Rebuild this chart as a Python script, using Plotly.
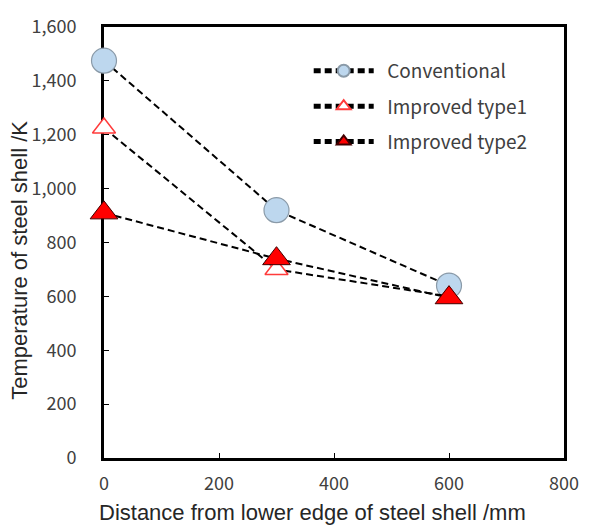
import plotly.graph_objects as go

# Shell temperature versus distance from the lower edge of the steel shell
distance_mm = [0, 300, 600]
conventional = [1475, 920, 640]
improved_type1 = [1225, 700, 600]
improved_type2 = [910, 740, 595]

x_ticks = [0, 200, 400, 600, 800]
y_ticks = [0, 200, 400, 600, 800, 1000, 1200, 1400, 1600]

x_title = "Distance from lower edge of steel shell /mm"
y_title = "Temperature of steel shell /K"

DASH = "7px,4px"
TICK_FONT = dict(family="Noto Sans CJK JP, Liberation Sans", size=18, color="#404040")
TITLE_FONT = dict(family="Liberation Sans, Arial", size=22, color="#262626")
NBSP = "\u00a0\u00a0"

fig = go.Figure()

series = [
    ("Conventional", conventional,
     dict(symbol="circle", size=25, color="#bdd7ee", line=dict(color="#8a9aa8", width=1.2)), "legend"),
    ("Improved type1", improved_type1,
     dict(symbol="triangle-up", size=20, color="white", line=dict(color="#ff3b3b", width=1.5)), "legend2"),
    ("Improved type2", improved_type2,
     dict(symbol="triangle-up", size=24, color="#ff0000", line=dict(color="#400000", width=1)), "legend3"),
]

for name, values, marker, leg in series:
    fig.add_trace(go.Scatter(
        x=distance_mm, y=values, name=NBSP + name, mode="lines+markers",
        line=dict(color="black", width=2, dash=DASH),
        marker=marker, legend=leg, cliponaxis=False,
    ))

legend_common = dict(
    bgcolor="rgba(0,0,0,0)", borderwidth=0, itemsizing="constant", itemwidth=60,
    font=dict(family="Noto Sans CJK JP, Liberation Sans", size=19, color="#404040"),
    xanchor="left", yanchor="middle", x=0.445,
)

axis_common = dict(
    ticks="inside", ticklen=5, tickwidth=1, tickcolor="black",
    showline=True, linecolor="black", linewidth=3, mirror=True,
    showgrid=False, zeroline=False, tickfont=TICK_FONT, layer="below traces",
)

fig.update_layout(
    width=591, height=527,
    margin=dict(l=104, r=18, t=20, b=69),
    paper_bgcolor="white", plot_bgcolor="white",
    showlegend=True,
    legend=dict(**legend_common, y=0.898),
    legend2=dict(**legend_common, y=0.816),
    legend3=dict(**legend_common, y=0.734),
    xaxis=dict(range=[0, 800], tickvals=x_ticks, ticklabelstandoff=7, **axis_common),
    yaxis=dict(range=[0, 1600], tickvals=y_ticks, tickformat=",", ticklabelstandoff=21, **axis_common),
    annotations=[
        dict(text=x_title, xref="paper", yref="paper", x=0.454, y=-0.1256,
             xanchor="center", yanchor="middle", showarrow=False, font=TITLE_FONT),
        dict(text=y_title, xref="paper", yref="paper", x=-0.1834, y=0.459, textangle=-90,
             xanchor="center", yanchor="middle", showarrow=False, font=TITLE_FONT),
    ],
)

fig.write_html("out.html")
